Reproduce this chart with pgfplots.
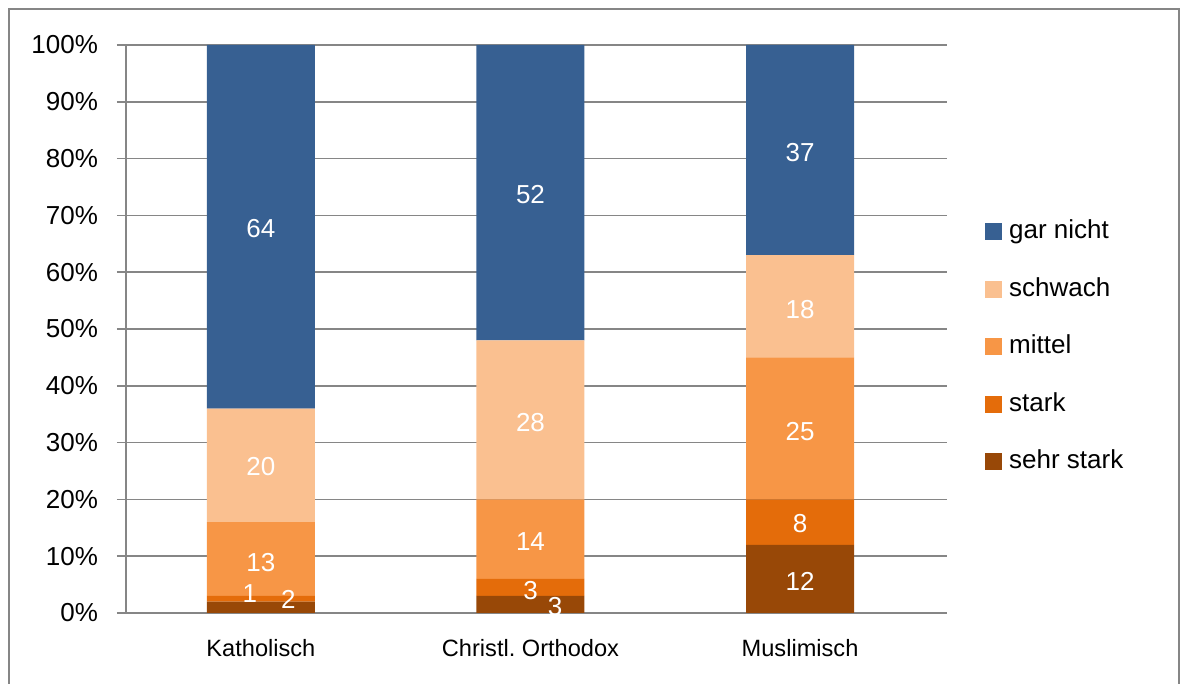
\documentclass[border=0pt]{standalone}
\usepackage{pgfplots}
\usepackage{pgfplotstable}
\pgfplotsset{compat=1.18}
\usepackage{fontspec}
\setmainfont{Liberation Sans}
\definecolor{cGar}{RGB}{55,96,146}
\definecolor{cSchw}{RGB}{250,192,144}
\definecolor{cMit}{RGB}{247,150,70}
\definecolor{cStark}{RGB}{228,108,10}
\definecolor{cSehr}{RGB}{152,72,7}
\definecolor{cGrid}{RGB}{134,134,134}

\pgfplotstableread{
x      sehr stark mittel schwach gar
-0.007 2    1     13     20      64
0.978  3    3     14     28      52
1.963  12   8     25     18      37
}\bars

\pgfplotstableread{
x       y     lab
-0.007  67.6  64
-0.007  25.7  20
-0.007  8.9   13
-0.047  3.4   1
0.093   2.4   2
0.978   73.6  52
0.978   33.6  28
0.978   12.6  14
0.978   4.0   3
1.068   1.2   3
1.963   81.0  37
1.963   53.5  18
1.963   31.9  25
1.963   15.7  8
1.963   5.6   12
}\labs

\begin{document}
\begin{tikzpicture}
\useasboundingbox (0,0) rectangle (591pt,342pt);
\draw[cGrid, line width=0.8pt] (4.5pt,0) -- (4.5pt,337.5pt) -- (589.5pt,337.5pt) -- (589.5pt,0);
\begin{axis}[
  at={(63pt,35.5pt)}, anchor=south west,
  scale only axis, width=410.5pt, height=284pt,
  ybar stacked, bar width=54pt,
  xmin=-0.5, xmax=2.5, ymin=0, ymax=100,
  axis x line*=bottom, axis y line*=left,
  axis line style={cGrid, line width=0.8pt},
  xtick={-0.007,0.978,1.963},
  xticklabels={Katholisch, {Christl.\ Orthodox}, Muslimisch},
  xtick style={draw=none},
  extra x ticks={-0.5,0.5,1.5,2.5},
  extra x tick labels={},
  extra x tick style={grid=none, tick align=outside, major tick length=4.5pt, tick style={cGrid, line width=0.8pt}},
  xticklabel style={font=\fontsize{11.8pt}{13pt}\selectfont, yshift=-5pt},
  ytick={0,10,...,100},
  yticklabel={\pgfmathprintnumber{\tick}\%},
  /pgf/number format/assume math mode=true,
  yticklabel style={font=\fontsize{13pt}{15pt}\selectfont, xshift=-6pt},
  ytick style={cGrid, line width=0.8pt},
  tick align=outside, major tick length=4.5pt,
  ymajorgrids, grid style={cGrid, line width=0.8pt},
  legend style={draw=none, at={(1.046,0.469)}, anchor=west, inner sep=0pt,
    font=\fontsize{13pt}{15pt}\selectfont,
    nodes={inner sep=0pt, text height=9.5pt, text depth=2.5pt},
    row sep=16.8pt,
    /tikz/every odd column/.append style={column sep=3.5pt}},
  legend cell align=left,
  reverse legend,
  legend image code/.code={\fill[#1] (0pt,-4.25pt) rectangle (8.5pt,4.25pt);},
]
\addplot[fill=cSehr, draw=none] table[x=x, y=sehr] {\bars};
\addlegendentry{sehr stark}
\addplot[fill=cStark, draw=none] table[x=x, y=stark] {\bars};
\addlegendentry{stark}
\addplot[fill=cMit, draw=none] table[x=x, y=mittel] {\bars};
\addlegendentry{mittel}
\addplot[fill=cSchw, draw=none] table[x=x, y=schwach] {\bars};
\addlegendentry{schwach}
\addplot[fill=cGar, draw=none] table[x=x, y=gar] {\bars};
\addlegendentry{gar nicht}
\end{axis}
\begin{axis}[
  at={(63pt,35.5pt)}, anchor=south west,
  scale only axis, width=410.5pt, height=284pt,
  xmin=-0.5, xmax=2.5, ymin=0, ymax=100,
  hide axis, clip=false,
]
\addplot[only marks, mark=none, nodes near coords, point meta=explicit symbolic,
  every node near coord/.append style={anchor=center, text=white, inner sep=0pt,
    font=\fontsize{13pt}{14pt}\selectfont}]
  table[x=x, y=y, meta=lab] {\labs};
\end{axis}
\end{tikzpicture}
\end{document}
